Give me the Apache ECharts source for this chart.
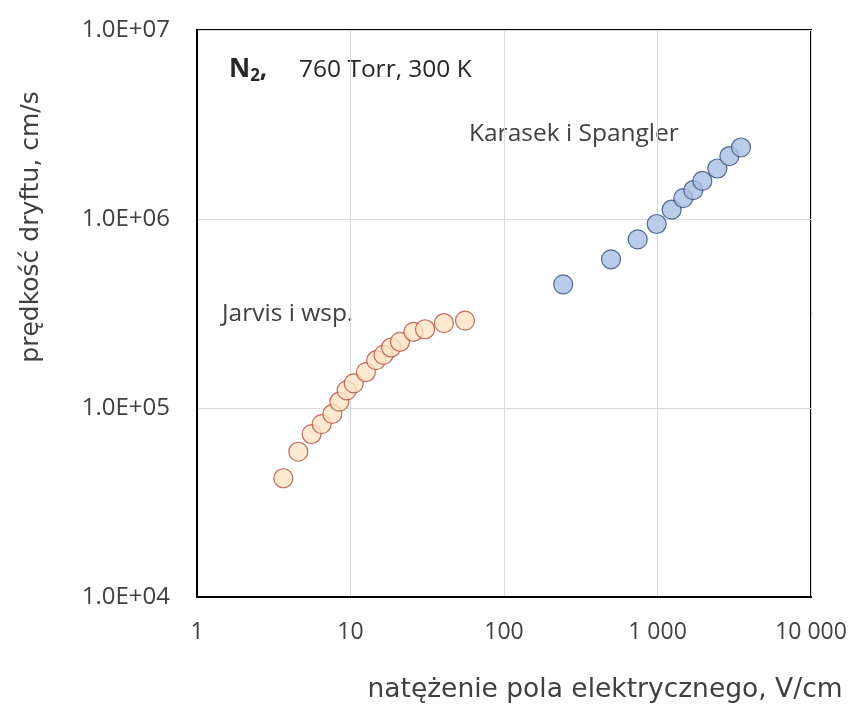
<!DOCTYPE html>
<html>
<head>
<meta charset="utf-8">
<script src="https://cdn.jsdelivr.net/npm/echarts@6/dist/echarts.min.js"></script>
<style>html,body{margin:0;padding:0;background:#fff}#c{width:854px;height:707px}</style>
</head>
<body>
<div id="c"></div>
<script>
var jarvisX = [3.65, 4.57, 5.58, 6.49, 7.62, 8.46, 9.44, 10.5, 12.6, 14.7, 16.4, 18.4, 21.0, 25.7, 30.6, 40.6, 55.7];
var jarvisY = [42500, 58700, 72800, 82200, 93000, 108000, 124000, 135000, 155000, 179000, 191000, 209000, 224000, 253000, 261000, 281000, 290000];
var karasekX = [243, 498, 743, 988, 1237, 1472, 1711, 1959, 2455, 2938, 3500];
var karasekY = [451000, 612000, 780000, 941000, 1120000, 1290000, 1420000, 1590000, 1850000, 2150000, 2390000];
var xTickLabels = {1: '1', 10: '10', 100: '100', 1000: '1 000', 10000: '10 000'};
var yTickLabels = {10000: '1.0E+04', 100000: '1.0E+05', 1000000: '1.0E+06', 10000000: '1.0E+07'};

function pairs(xs, ys) { return xs.map(function (x, i) { return [x, ys[i]]; }); }

var font = '"Open Sans", "Liberation Sans", sans-serif';
var titleFont = '"DejaVu Sans", Verdana, sans-serif';
var chart = echarts.init(document.getElementById('c'), null, {renderer: 'canvas'});
chart.setOption({
  animation: false,
  backgroundColor: '#fff',
  grid: {left: 197, right: 43, top: 30, bottom: 110, show: true, borderColor: '#000', borderWidth: 2, backgroundColor: 'transparent'},
  xAxis: {
    type: 'log', logBase: 10, min: 1, max: 10000,
    axisLine: {show: true, lineStyle: {color: '#000', width: 2}},
    axisTick: {show: false},
    minorTick: {show: false},
    splitLine: {show: true, lineStyle: {color: '#d9d9d9', width: 1}},
    axisLabel: {
      margin: 24, fontSize: 23, color: '#404040', fontFamily: font,
      formatter: function (v) { var k = Math.round(v); return xTickLabels[k] !== undefined ? xTickLabels[k] : ''; }
    }
  },
  yAxis: {
    type: 'log', logBase: 10, min: 10000, max: 10000000,
    axisLine: {show: true, lineStyle: {color: '#000', width: 2}},
    axisTick: {show: false},
    minorTick: {show: false},
    splitLine: {show: true, lineStyle: {color: '#d9d9d9', width: 1}},
    axisLabel: {
      margin: 27, fontSize: 24, color: '#404040', fontFamily: font,
      formatter: function (v) { var k = Math.round(v); return yTickLabels[k] !== undefined ? yTickLabels[k] : ''; }
    }
  },
  series: [
    {
      name: 'Jarvis i wsp.', type: 'scatter', symbol: 'circle', symbolSize: 19,
      data: pairs(jarvisX, jarvisY),
      itemStyle: {color: '#fde3c4', borderColor: '#b5483a', borderWidth: 1.2},
      z: 3
    },
    {
      name: 'Karasek i Spangler', type: 'scatter', symbol: 'circle', symbolSize: 19,
      data: pairs(karasekX, karasekY),
      itemStyle: {color: '#a7bfe4', borderColor: '#2f4a73', borderWidth: 1.2},
      z: 3
    }
  ],
  graphic: [
    {type: 'text', x: 229, y: 70, style: {
      text: '{b|N}{s|2}{b|,}', verticalAlign: 'middle', fill: '#262626', font: '24px ' + font,
      rich: {b: {fontWeight: 'bold', fontSize: 26, fontFamily: font, fill: '#262626'}, s: {fontWeight: 'bold', fontSize: 17, fontFamily: font, padding: [12, 0, 0, 0], fill: '#262626'}}
    }},
    {type: 'text', x: 299, y: 70, style: {text: '760 Torr, 300 K', fill: '#262626', font: '24.5px ' + font, verticalAlign: 'middle'}},
    {type: 'text', x: 469, y: 134, style: {text: 'Karasek i Spangler', fill: '#404040', font: '24.5px ' + font, verticalAlign: 'middle'}},
    {type: 'text', x: 222, y: 314, style: {text: 'Jarvis i wsp.', fill: '#404040', font: '24.5px ' + font, verticalAlign: 'middle'}},
    {type: 'text', x: 605, y: 690, style: {text: 'natężenie pola elektrycznego, V/cm', fill: '#404040', font: '26.5px ' + titleFont, align: 'center', verticalAlign: 'middle'}},
    {type: 'text', x: 31, y: 227, rotation: Math.PI / 2, style: {text: 'prędkość dryftu, cm/s', fill: '#404040', font: '25px ' + titleFont, align: 'center', verticalAlign: 'middle'}}
  ]
});
</script>
</body>
</html>
